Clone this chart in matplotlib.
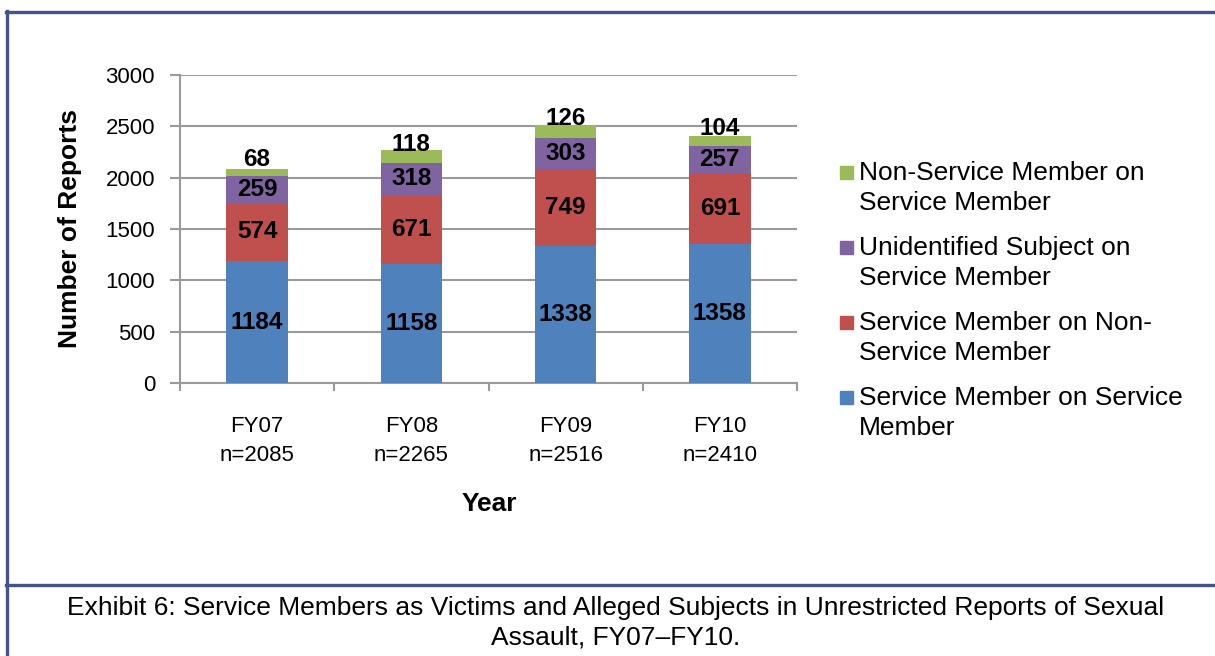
import matplotlib
matplotlib.use('Agg')
import matplotlib.pyplot as plt
import numpy as np
from matplotlib.patches import Rectangle
from matplotlib.lines import Line2D

# Data
years = ['FY07\nn=2085', 'FY08\nn=2265', 'FY09\nn=2516', 'FY10\nn=2410']
sm_on_sm = [1184, 1158, 1338, 1358]
sm_on_nonsm = [574, 671, 749, 691]
unid_on_sm = [259, 318, 303, 257]
nonsm_on_sm = [68, 118, 126, 104]

series = [sm_on_sm, sm_on_nonsm, unid_on_sm, nonsm_on_sm]
colors = ['#4F81BD', '#C0504D', '#8064A2', '#9BBB59']
labels = ['Service Member on Service\nMember',
          'Service Member on Non-\nService Member',
          'Unidentified Subject on\nService Member',
          'Non-Service Member on\nService Member']

FONT = ['Liberation Sans', 'DejaVu Sans']
BORDER = '#44548A'
GRAY = '#9A9A9A'

fig = plt.figure(figsize=(12.15, 6.56), dpi=100)
ax = fig.add_axes([180 / 1215, 1 - 383 / 656, 617 / 1215, 308 / 656])

x = np.arange(len(years))
bottom = np.zeros(len(years))
for vals, c in zip(series, colors):
    ax.bar(x, vals, 0.4, bottom=bottom, color=c, zorder=3)
    for xi, b, v in zip(x, bottom, vals):
        dy = 9 if c == colors[-1] else 0
        ax.annotate(str(v), (xi, b + v / 2), xytext=(0, dy), textcoords='offset points',
                    ha='center', va='center', fontsize=17.5, fontweight='bold',
                    family=FONT, zorder=4)
    bottom += np.array(vals)

ax.set_xlim(-0.5, len(years) - 0.5)
ax.set_ylim(0, 3000)
ax.set_yticks(np.arange(0, 3001, 500))
ax.set_xticks(x)
ax.set_xticklabels(years, family=FONT, fontsize=16, linespacing=1.45)
ax.set_xticks(np.arange(-0.5, len(years), 1), minor=True)
ax.tick_params(axis='x', which='major', length=0, pad=24)
ax.tick_params(axis='x', which='minor', length=6, width=1.5, color=GRAY, direction='out')
ax.tick_params(axis='y', length=7, width=1.5, color=GRAY, pad=11, labelsize=16)
for t in ax.get_yticklabels():
    t.set_family(FONT)

ax.grid(axis='y', color=GRAY, linewidth=1.5, zorder=0)
for s in ['top', 'right']:
    ax.spines[s].set_visible(False)
for s in ['left', 'bottom']:
    ax.spines[s].set_color(GRAY)
    ax.spines[s].set_linewidth(1.5)

fig.text(70 / 1215, 1 - 229 / 656, 'Number of Reports', rotation=90, ha='center', va='center',
         fontsize=19, fontweight='bold', family=FONT)
fig.text(489 / 1215, 1 - 504 / 656, 'Year', ha='center', va='center',
         fontsize=19, fontweight='bold', family=FONT)

# Legend (drawn manually so squares line up with first text line)
leg_y = [397, 322, 247, 172]
for lab, c, yy in zip(labels, colors, leg_y):
    fig.patches.append(Rectangle((840 / 1215, 1 - (yy + 6.5) / 656), 13 / 1215, 13 / 656,
                                 transform=fig.transFigure, color=c))
    fig.text(859 / 1215, 1 - (yy - 11) / 656, lab, ha='left', va='top', fontsize=19,
             family=FONT, linespacing=1.3)

# Frame lines
fig.add_artist(Line2D([6 / 1215, 1], [1 - 12 / 656] * 2, color=BORDER, lw=2.4,
                      transform=fig.transFigure))
fig.add_artist(Line2D([7 / 1215] * 2, [0, 1 - 11 / 656], color=BORDER, lw=2.4,
                      transform=fig.transFigure))
fig.add_artist(Line2D([6 / 1215, 1], [1 - 585 / 656] * 2, color=BORDER, lw=2.4,
                      transform=fig.transFigure))

fig.text(616 / 1215, 1 - 623 / 656,
         'Exhibit 6: Service Members as Victims and Alleged Subjects in Unrestricted Reports of Sexual\nAssault, FY07\u2013FY10.',
         ha='center', va='center', fontsize=19, family=FONT, linespacing=1.3)

fig.savefig('out.png', dpi=100, facecolor='white')
